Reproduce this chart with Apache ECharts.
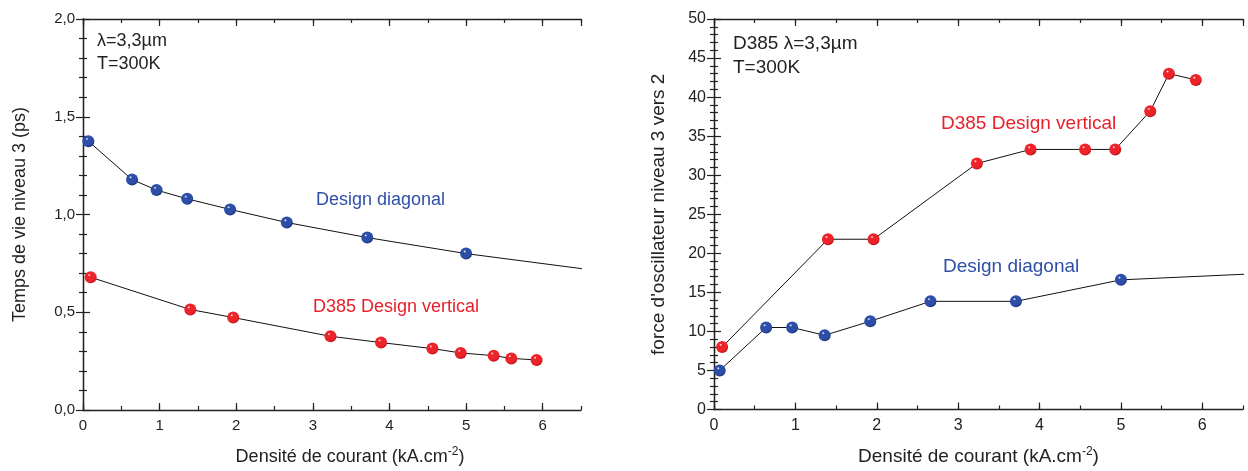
<!DOCTYPE html>
<html><head><meta charset="utf-8">
<script src="https://cdn.jsdelivr.net/npm/echarts@6/dist/echarts.min.js"></script>
<style>html,body{margin:0;padding:0;background:#fff}#c{width:1248px;height:471px}</style>
</head><body><div id="c"></div>
<script>
// Shared current densities (kA.cm^-2)
const blueX = [0.07, 0.64, 0.96, 1.36, 1.92, 2.66, 3.71, 5.00, 7.00];
const redX = [0.10, 1.40, 1.96, 3.23, 3.89, 4.56, 4.93, 5.36, 5.59, 5.92];
// Left panel: lifetime of level 3 (ps)
const blueLifetime = [1.375, 1.179, 1.125, 1.080, 1.026, 0.959, 0.882, 0.800, 0.698];
const redLifetime = [0.679, 0.514, 0.473, 0.377, 0.345, 0.314, 0.292, 0.278, 0.264, 0.256];
// Right panel: oscillator strength 3 -> 2
const blueOsc = [5.0, 10.5, 10.5, 9.5, 11.3, 13.85, 13.85, 16.6, 17.55];
const redOsc = [8.0, 21.8, 21.8, 31.5, 33.3, 33.3, 33.3, 38.2, 43.0, 42.2];
// Tick labels
const xTickLabels = ['0', '1', '2', '3', '4', '5', '6'];
const lifetimeTickLabels = ['0,0', '0,5', '1,0', '1,5', '2,0'];
const oscTickLabels = ['0','5','10','15','20','25','30','35','40','45','50'];

const FONT = '"Liberation Sans", Arial, sans-serif';
const AX = '#222';
const xName = 'Densité de courant (kA.cm{sup|-2})';

function pair(xs, ys) { return xs.map((x, i) => [x, ys[i]]); }

function sphere(main, dark) {
  return {
    type: 'radial', x: 0.38, y: 0.32, r: 0.7,
    colorStops: [
      { offset: 0, color: '#ffffff' },
      { offset: 0.18, color: main },
      { offset: 0.75, color: main },
      { offset: 1, color: dark }
    ]
  };
}
const BLUE = sphere('#2c4ea6', '#1a3078');
const RED = sphere('#ee2229', '#b5121a');

function xAxesFor(g, namePadLeft, labelSize, nameSize) {
  const base = { gridIndex: g, type: 'value', min: 0, max: 6.5, splitLine: { show: false } };
  return [
    Object.assign({}, base, {
      position: 'bottom', interval: 1,
      axisLine: { show: true, lineStyle: { color: AX, width: 1.3 } },
      axisTick: { show: true, inside: true, length: 7, lineStyle: { color: AX, width: 1.2 } },
      axisLabel: {
        show: true, color: AX, fontSize: labelSize, fontFamily: FONT, margin: 8, showMaxLabel: false,
        formatter: v => (Number.isInteger(v) ? xTickLabels[v] : '')
      },
      name: xName, nameLocation: 'middle', nameGap: 36,
      nameTextStyle: {
        color: AX, fontSize: nameSize, fontFamily: FONT, padding: [0, 0, 0, namePadLeft],
        rich: { sup: { fontSize: 12, fontFamily: FONT, color: AX, verticalAlign: 'top', padding: [0, 0, 10, 0] } }
      }
    }),
    Object.assign({}, base, {
      position: 'bottom', interval: 0.5,
      axisLine: { show: false },
      axisTick: { show: true, inside: true, length: 4, lineStyle: { color: AX, width: 1.2 } },
      axisLabel: { show: false }
    }),
    Object.assign({}, base, {
      position: 'top', interval: 1,
      axisLine: { show: true, lineStyle: { color: AX, width: 1.3 } },
      axisTick: { show: true, inside: true, length: 7, lineStyle: { color: AX, width: 1.2 } },
      axisLabel: { show: false }
    }),
    Object.assign({}, base, {
      position: 'top', interval: 0.5,
      axisLine: { show: false },
      axisTick: { show: true, inside: true, length: 4, lineStyle: { color: AX, width: 1.2 } },
      axisLabel: { show: false }
    })
  ];
}

function yAxesFor(g, max, interval, labels, name, nameGap, labelSize, nameSize) {
  const base = {
    gridIndex: g, type: 'value', min: 0, max: max, interval: interval,
    splitLine: { show: false },
    axisLine: { show: true, lineStyle: { color: AX, width: 1.3 } },
    axisTick: { show: true, inside: true, length: 7, lineStyle: { color: AX, width: 1.2 } },
    minorTick: { show: true, splitNumber: 5, length: 4, lineStyle: { color: AX, width: 1.2 } }
  };
  return [
    Object.assign({}, base, {
      position: 'left',
      axisLabel: {
        show: true, color: AX, fontSize: labelSize, fontFamily: FONT, margin: 8,
        formatter: v => labels[Math.round(v / interval)]
      },
      name: name, nameLocation: 'middle', nameGap: nameGap,
      nameTextStyle: { color: AX, fontSize: nameSize, fontFamily: FONT }
    }),
    Object.assign({}, base, { position: 'right', axisLabel: { show: false } })
  ];
}

function lineSeries(xi, yi, data, color) {
  return {
    type: 'line', xAxisIndex: xi, yAxisIndex: yi, data: data, clip: true,
    symbol: 'circle', symbolSize: 12, showSymbol: true,
    lineStyle: { color: '#111', width: 1 },
    itemStyle: { color: color },
    silent: true, animation: false
  };
}

function txt(left, top, text, color, size) {
  return {
    type: 'text', left: left, top: top,
    style: { text: text, fill: color, font: size + 'px ' + FONT }
  };
}

const chart = echarts.init(document.getElementById('c'), null, { renderer: 'canvas' });
chart.setOption({
  animation: false,
  backgroundColor: '#fff',
  grid: [
    { left: 83, top: 19, width: 498, height: 391 },
    { left: 714, top: 19, width: 529, height: 391 }
  ],
  xAxis: xAxesFor(0, 36, 15, 18).concat(xAxesFor(1, 0, 16, 19)),
  yAxis: yAxesFor(0, 2, 0.5, lifetimeTickLabels, 'Temps de vie niveau 3 (ps)', 54, 15, 18)
    .concat(yAxesFor(1, 50, 5, oscTickLabels, "force d'oscillateur niveau 3 vers 2", 46, 16, 19)),
  series: [
    lineSeries(0, 0, pair(blueX, blueLifetime), BLUE),
    lineSeries(0, 0, pair(redX, redLifetime), RED),
    lineSeries(4, 2, pair(blueX, blueOsc), BLUE),
    lineSeries(4, 2, pair(redX, redOsc), RED)
  ],
  graphic: [
    txt(97, 32, '\u03bb=3,3\u00b5m', '#222', 18),
    txt(97, 55, 'T=300K', '#222', 18),
    txt(316, 191, 'Design diagonal', '#2f4fa8', 18),
    txt(313, 298, 'D385 Design vertical', '#e8202a', 18),
    txt(733, 34, 'D385 \u03bb=3,3\u00b5m', '#222', 19),
    txt(733, 58, 'T=300K', '#222', 19),
    txt(941, 114, 'D385 Design vertical', '#e8202a', 19),
    txt(943, 257, 'Design diagonal', '#2f4fa8', 19)
  ]
});
</script>
</body></html>
